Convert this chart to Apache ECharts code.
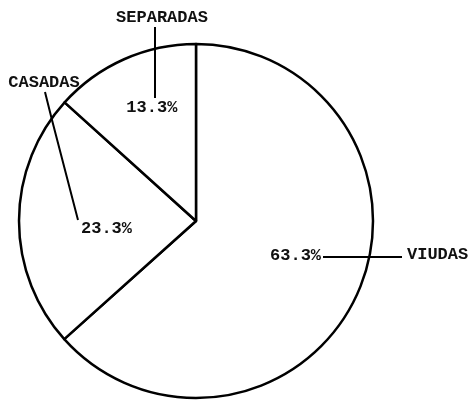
<!DOCTYPE html>
<html>
<head>
<meta charset="utf-8">
<script src="https://cdn.jsdelivr.net/npm/echarts@6/dist/echarts.min.js"></script>
<style>
  html, body { margin: 0; padding: 0; background: #fff; }
  #pie { width: 470px; height: 404px; }
</style>
</head>
<body>
<div id="pie"></div>
<script>
// pie de estado civil
var categories = ['VIUDAS', 'CASADAS', 'SEPARADAS'];
var values = [63.3, 23.3, 13.3];

var font = 'bold 17px "Liberation Mono", "DejaVu Sans Mono", monospace';
// nudge of each percentage inside its slice
var pctOffset = [[16, -3], [2, 8], [-7, -30]];

var myChart = echarts.init(document.getElementById('pie'));

var pieData = categories.map(function (name, i) {
  return {
    name: name,
    value: values[i],
    label: { offset: pctOffset[i] }
  };
});

var option = {
  animation: false,
  backgroundColor: '#fff',
  series: [{
    type: 'pie',
    center: [196, 221],
    radius: [0, 177],
    startAngle: 90,
    clockwise: true,
    avoidLabelOverlap: false,
    silent: true,
    itemStyle: {
      color: '#fff',
      borderColor: '#000',
      borderWidth: 2.5
    },
    label: {
      show: true,
      position: 'inside',
      formatter: function (p) { return p.value.toFixed(1) + '%'; },
      color: '#111',
      fontFamily: '"Liberation Mono", "DejaVu Sans Mono", monospace',
      fontWeight: 'bold',
      fontSize: 17
    },
    labelLine: { show: false },
    emphasis: { disabled: true },
    data: pieData
  }],
  // nombres fuera del circulo con sus lineas guia
  graphic: [
    {
      type: 'text', z: 100,
      style: { text: categories[2], x: 162, y: 18, font: font, fill: '#111', textAlign: 'center', textVerticalAlign: 'middle' }
    },
    {
      type: 'line', z: 100,
      shape: { x1: 155, y1: 27, x2: 155, y2: 98 },
      style: { stroke: '#000', lineWidth: 2 }
    },
    {
      type: 'text', z: 100,
      style: { text: categories[1], x: 44, y: 83, font: font, fill: '#111', textAlign: 'center', textVerticalAlign: 'middle' }
    },
    {
      type: 'polyline', z: 100,
      shape: { points: [[45, 92], [52, 120], [78, 220]] },
      style: { stroke: '#000', lineWidth: 2, fill: null }
    },
    {
      type: 'line', z: 100,
      shape: { x1: 323, y1: 257, x2: 402, y2: 257 },
      style: { stroke: '#000', lineWidth: 2 }
    },
    {
      type: 'text', z: 100,
      style: { text: categories[0], x: 407, y: 255, font: font, fill: '#111', textAlign: 'left', textVerticalAlign: 'middle' }
    }
  ]
};

myChart.setOption(option);
window.addEventListener('resize', function () {
  myChart.resize();
});
</script>
</body>
</html>
